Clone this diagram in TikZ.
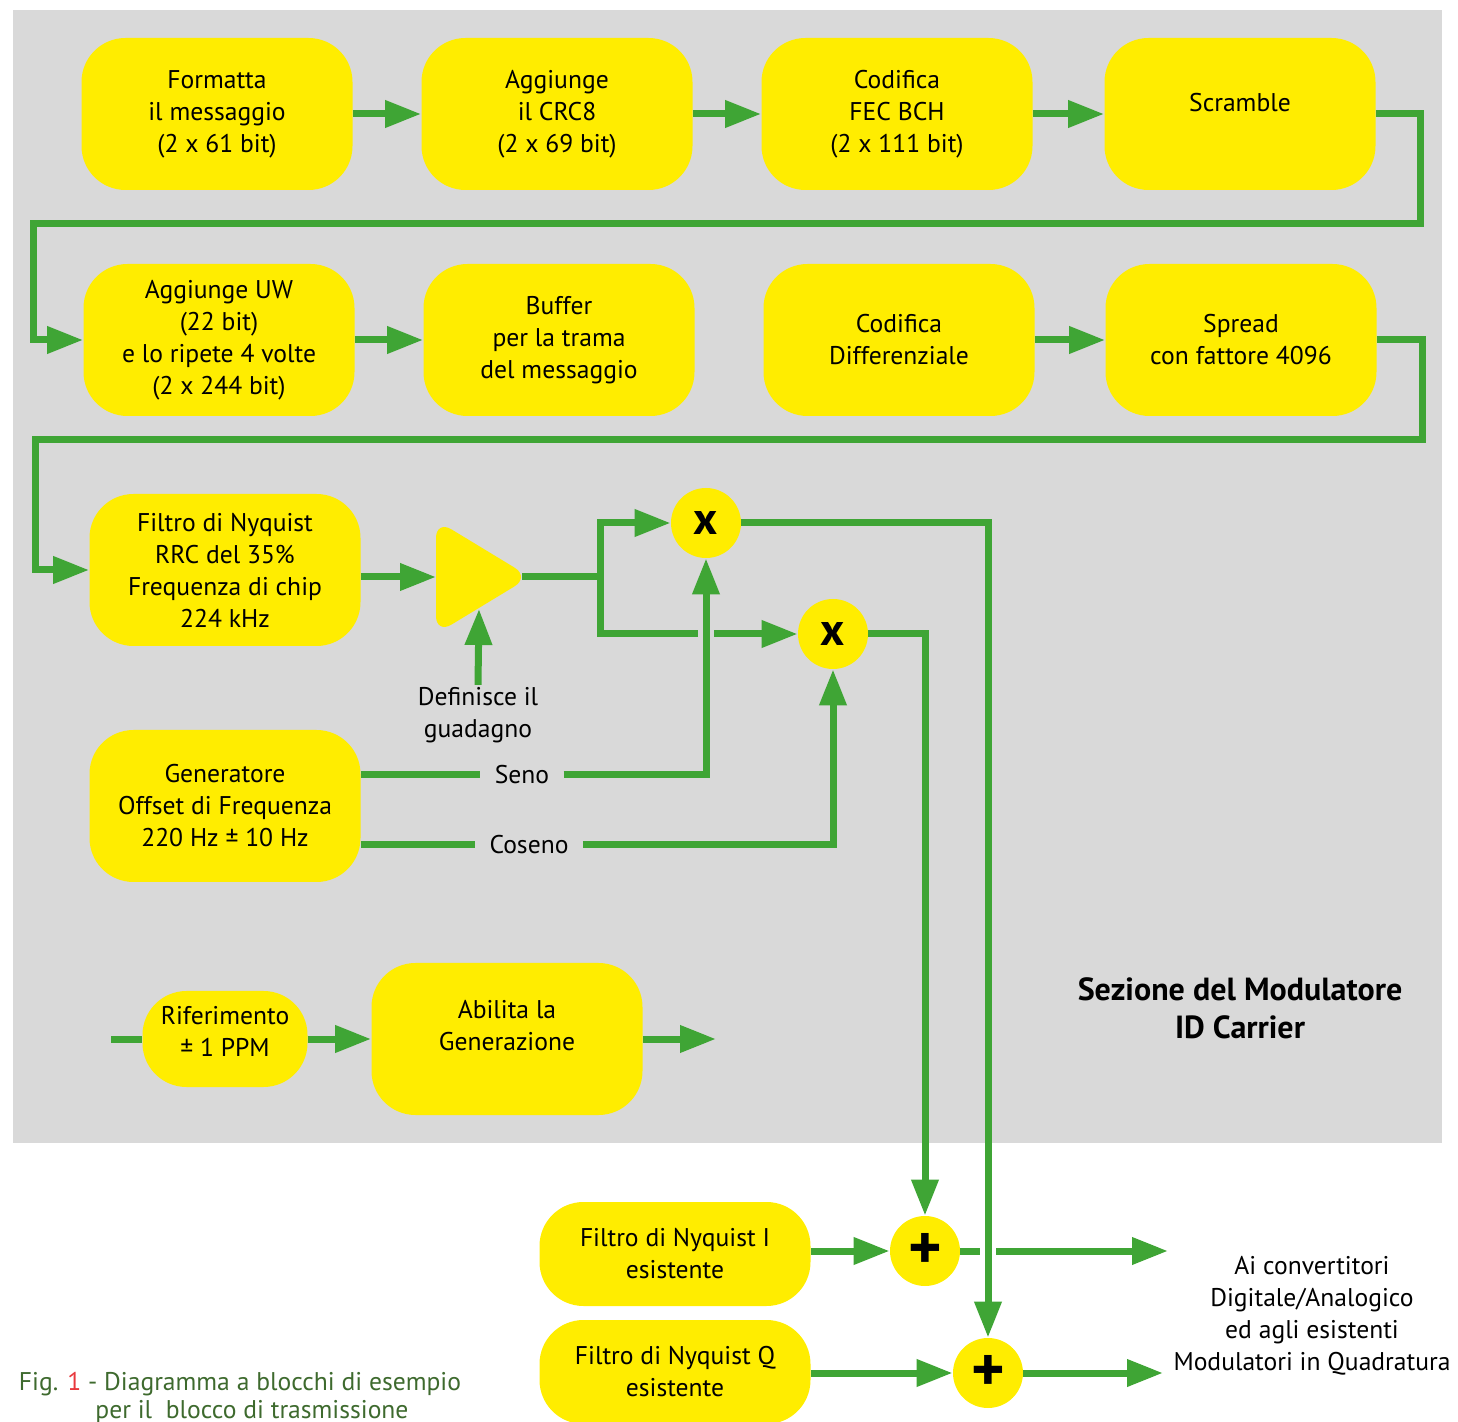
\documentclass[tikz,border=0pt]{standalone}
\usepackage{fontspec}
\setmainfont{PT Sans}
\usetikzlibrary{arrows.meta,calc}
\definecolor{giallo}{HTML}{FFED00}
\definecolor{verde}{HTML}{3FA535}
\definecolor{grigio}{HTML}{D9D9D9}
\definecolor{verdescuro}{HTML}{3E6A2E}
\definecolor{rosso}{HTML}{E8383D}
\tikzset{
  blocco/.style={fill=giallo, rounded corners=22pt, minimum width=135.5pt,
    minimum height=76pt, align=center, inner sep=2pt},
  molt/.style={circle, fill=giallo, minimum size=35pt, inner sep=0pt,
    font=\fontsize{23}{23}\selectfont\bfseries},
  somma/.style={molt, font=\fontsize{32}{32}\selectfont\bfseries},
  etichetta/.style={inner xsep=7pt, inner ysep=2pt},
  linea/.style={draw=verde, line width=3.5pt},
  freccia/.style={linea, -{Triangle[length=18pt,width=13pt]}},
}
\begin{document}
\begin{tikzpicture}[x=0.5pt,y=-0.5pt,font=\fontsize{12.8}{16}\selectfont]
  \useasboundingbox (0,0) rectangle (1458,1422);
  \clip (0,0) rectangle (1458,1422);
  % Sfondo
  \fill[grigio] (13,10) rectangle (1442,1143);
  % Prima riga
  \node[blocco] (formatta) at (217,114) {Formatta\\il messaggio\\(2 x 61 bit)};
  \node[blocco] (crc) at (557,114) {Aggiunge\\il CRC8\\(2 x 69 bit)};
  \node[blocco] (fec) at (897,114) {Codifica\\FEC BCH\\(2 x 111 bit)};
  \node[blocco, text depth=12pt] (scramble) at (1240,114) {Scramble};
  % Seconda riga
  \node[blocco] (uw) at (219,340) {Aggiunge UW\\(22 bit)\\e lo ripete 4 volte\\(2 x 244 bit)};
  \node[blocco] (buffer) at (559,340) {Buffer\\per la trama\\del messaggio};
  \node[blocco] (diff) at (899,340) {Codifica\\Differenziale};
  \node[blocco] (spread) at (1241,340) {Spread\\con fattore 4096};
  % Terza riga
  \node[blocco] (nyquist) at (225,570) {Filtro di Nyquist\\RRC del 35\%\\Frequenza di chip\\224 kHz};
  \fill[giallo, rounded corners=9pt] (436,520) -- (530,577) -- (436,634) -- cycle;
  \coordinate (ampin) at (436,577);
  \coordinate (ampout) at (522,577);
  \coordinate (ampbot) at (479,609);
  \coordinate (split) at (600,577);
  \node[molt] (multI) at (706,523) {x};
  \node[molt] (multQ) at (833,634) {x};
  \node[align=center, inner sep=1pt] (gain) at (478,715) {Definisce il\\guadagno};
  % Generatore
  \node[blocco] (gen) at (225,806) {Generatore\\Offset di Frequenza\\220 Hz ± 10 Hz};
  \node[etichetta] (seno) at (522,775) {Seno};
  \node[etichetta] (coseno) at (529,845) {Coseno};
  % Riferimento
  \node[blocco, minimum width=82.5pt, minimum height=48pt, text depth=8pt] (rif) at (225,1039) {Riferimento\\± 1 PPM};
  \node[blocco, text depth=14pt] (abil) at (507,1039) {Abilita la\\Generazione};
  \coordinate (rifin) at (111,1039);
  \coordinate (abilout) at (716,1039);
  \node[align=center, font=\fontsize{16}{19}\selectfont\bfseries] (titolo) at (1240,1008)
    {Sezione del Modulatore\\ID Carrier};
  % Uscita
  \node[blocco, minimum height=52pt] (filtroI) at (675,1254) {Filtro di Nyquist I\\esistente};
  \node[blocco, minimum height=52pt] (filtroQ) at (675,1372) {Filtro di Nyquist Q\\esistente};
  \node[somma] (sommaI) at (925,1251) {+};
  \node[somma] (sommaQ) at (988,1373) {+};
  \coordinate (outI) at (1168,1251);
  \coordinate (outQ) at (1163,1373);
  \node[align=center] (uscita) at (1312,1316)
    {Ai convertitori\\Digitale/Analogico\\ed agli esistenti\\Modulatori in Quadratura};
  \node[align=center, text=verdescuro, font=\fontsize{12.8}{14}\selectfont] (didascalia) at (240,1398)
    {Fig. \textcolor{rosso}{1} - Diagramma a blocchi di esempio\\\hspace*{12pt}per il\ \ blocco di trasmissione};
  % Collegamenti
  \draw[freccia] (formatta) -- (crc);
  \draw[freccia] (crc) -- (fec);
  \draw[freccia] (fec) -- (scramble);
  \coordinate (ritorno1) at (1420,224);
  \coordinate (ritorno1l) at (33,224);
  \draw[freccia] (scramble.east) -| (ritorno1) -- (ritorno1l) |- (uw.west);
  \draw[freccia] (uw) -- (buffer);
  \draw[freccia] (diff) -- (spread);
  \coordinate (ritorno2) at (1422,440);
  \coordinate (ritorno2l) at (35,440);
  \draw[freccia] (spread.east) -| (ritorno2) -- (ritorno2l) |- (nyquist.west);
  \draw[freccia] (nyquist.east |- ampin) -- (ampin);
  \draw[freccia] (gain.north) -- (ampbot);
  \draw[freccia] (ampout) -- (split) |- (multI);
  \draw[linea] (split) |- ($(multI.south |- multQ)+(-8,0)$);
  \draw[freccia] ($(multI.south |- multQ)+(8,0)$) -- (multQ);
  \draw[linea] (gen.east |- seno) -- (seno.west);
  \draw[freccia] (seno.east) -| (multI);
  \draw[linea] (gen.east |- coseno) -- (coseno.west);
  \draw[freccia] (coseno.east) -| (multQ);
  \draw[freccia] (multI) -| (sommaQ);
  \draw[freccia] (multQ) -| (sommaI);
  \draw[freccia] (filtroI.east |- sommaI) -- (sommaI);
  \draw[freccia] (filtroQ.east |- sommaQ) -- (sommaQ);
  \draw[linea] (sommaI) -- ($(sommaI -| sommaQ)+(-8,0)$);
  \draw[freccia] ($(sommaI -| sommaQ)+(8,0)$) -- (outI);
  \draw[freccia] (sommaQ) -- (outQ);
  \draw[linea] (rifin) -- (rif);
  \draw[freccia] (rif) -- (abil);
  \draw[freccia] (abil) -- (abilout);
\end{tikzpicture}
\end{document}
